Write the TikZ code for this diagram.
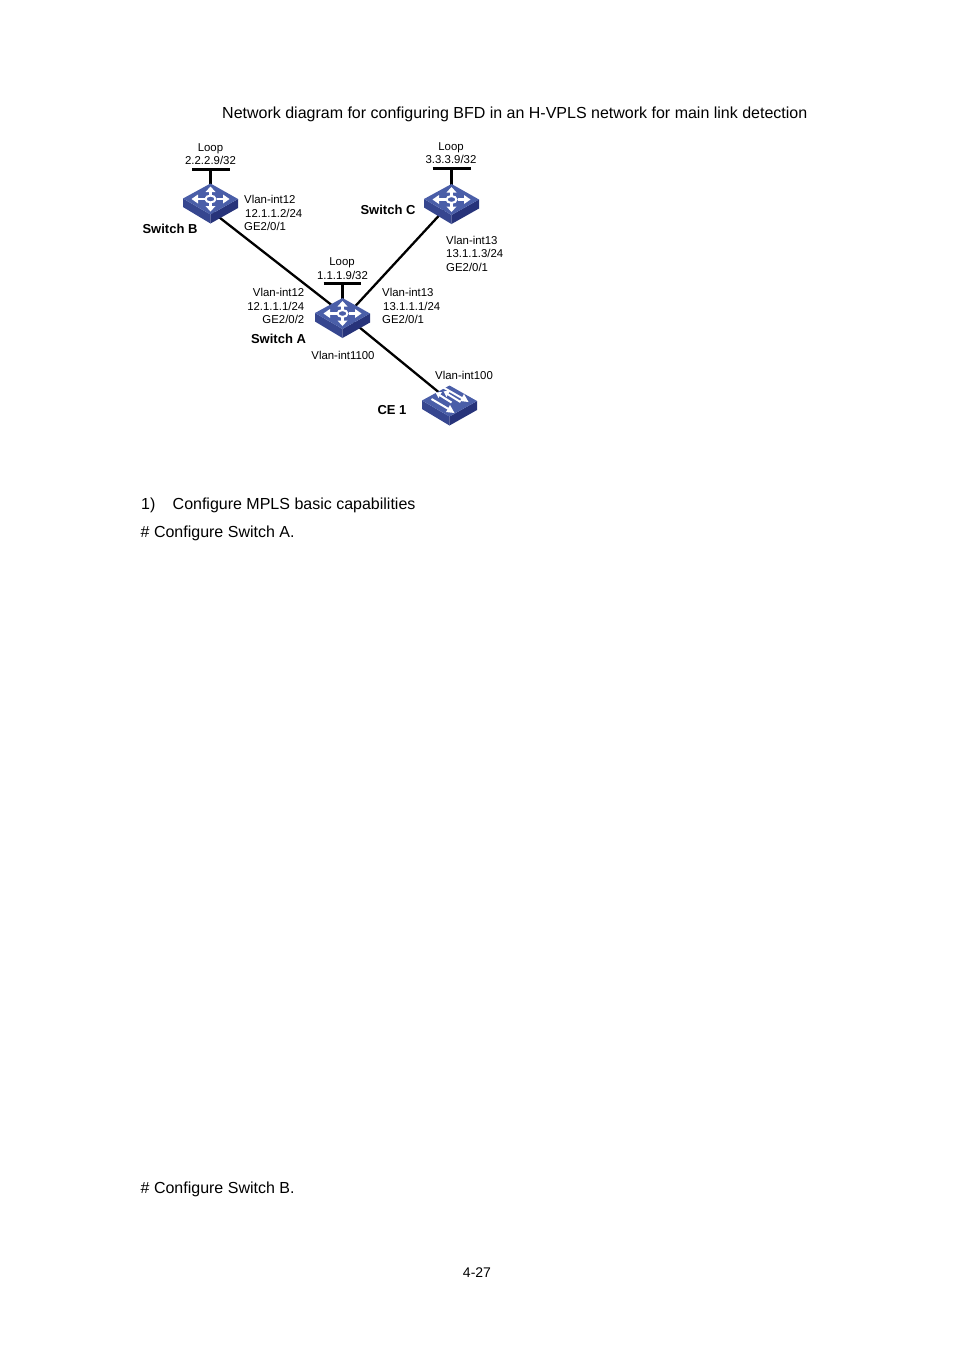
\documentclass[tikz,border=0pt]{standalone}
\usepackage{fontspec}
\setmainfont{Liberation Sans}
\definecolor{topblue}{HTML}{4A5EA8}
\definecolor{leftblue}{HTML}{36468F}
\definecolor{rightblue}{HTML}{27337A}
\tikzset{
  x=1pt,y=-1pt,
  bodytext/.style={inner sep=0pt,anchor=base west,font=\fontsize{16}{18}\selectfont},
  lbl/.style={inner sep=0pt,font=\fontsize{11.4}{13}\selectfont},
  lblw/.style={lbl,anchor=base west},
  lble/.style={lbl,anchor=base east},
  lblc/.style={lbl,anchor=base},
  devname/.style={inner sep=0pt,anchor=base,font=\fontsize{13}{15}\bfseries\selectfont},
  link/.style={draw=black,line width=2.3pt},
  stub/.style={draw=black,line width=2.6pt},
  loopbar/.style={draw=black,line width=2.3pt},
  pics/chassis/.style={code={
    \fill[leftblue] (-27.5,-0.5) -- (0,15.5) -- (0,24.5) -- (-27.5,8) -- cycle;
    \fill[rightblue] (27.5,0) -- (0,15.5) -- (0,24.5) -- (27.5,9) -- cycle;
    \fill[topblue] (-27.5,-0.5) -- (0,-15.5) -- (27.5,0) -- (0,15.5) -- cycle;
  }},
  pics/routericon/.style={code={
    \pic {chassis};
    \draw[white,line width=2pt] (0,0) ellipse (5 and 3.4);
    \foreach \s in {-1,1}{
      \draw[white,line width=2.4pt] (\s*6,0) -- (\s*14,0);
      \fill[white] (\s*19,0) -- (\s*12.5,-4.5) -- (\s*12.5,4.5) -- cycle;
      \fill[white] (0,\s*12.5) -- (-5,\s*7) -- (5,\s*7) -- cycle;
      \draw[white,line width=2.6pt] (0,\s*3.5) -- (0,\s*8);
    }
  }},
  strip/.style={white,line width=2pt},
  pics/l2icon/.style={code={
    \pic {chassis};
    \draw[strip] (-18,-2) -- (-1,8);
    \fill[white] (5,12) -- (-3.5,11) -- (0.5,4) -- cycle;
    \draw[strip] (-10,-6) -- (2,1.5);
    \fill[white] (-14,-8.5) -- (-7.5,-9) -- (-11,-3) -- cycle;
    \draw[strip] (-2,-7) -- (11,1);
    \fill[white] (-6,-9.7) -- (0.5,-10) -- (-3,-4) -- cycle;
    \draw[strip] (-6.5,-13.7) -- (14,-2);
    \fill[white] (19,1) -- (10.5,0) -- (14.5,-7) -- cycle;
  }}
}
\begin{document}
\begin{tikzpicture}
\useasboundingbox (0,0) rectangle (954,1350);
\fill[white] (0,0) rectangle (954,1350);
% anchors
\coordinate (swA) at (342.5,313.5);
\coordinate (swB) at (210.5,199);
\coordinate (swC) at (451.5,199.5);
\coordinate (ce) at (449.5,401);
\coordinate (portAb) at (342.5,313.5);
\coordinate (portAc) at (342.5,320);
\coordinate (portBa) at (210.5,210.5);
\coordinate (portCa) at (451.5,202);
\coordinate (barAl) at (323.5,283.5);
\coordinate (barAr) at (361,283.5);
\coordinate (barAm) at (342.5,283.5);
\coordinate (barBl) at (192,169.5);
\coordinate (barBr) at (230,169.5);
\coordinate (barBm) at (210.5,169.5);
\coordinate (barCl) at (432.5,168.5);
\coordinate (barCr) at (470.5,168.5);
\coordinate (barCm) at (451.5,168.5);
% connectors
\draw[link] (portAb) -- (portBa);
\draw[link] (portAc) -- (portCa);
\draw[link] (swA) -- (ce);
\draw[stub] (barAm) -- (swA);
\draw[stub] (barBm) -- (swB);
\draw[stub] (barCm) -- (swC);
\draw[loopbar] (barAl) -- (barAr);
\draw[loopbar] (barBl) -- (barBr);
\draw[loopbar] (barCl) -- (barCr);
% devices
\pic at (swA) {routericon};
\pic at (swB) {routericon};
\pic at (swC) {routericon};
\pic at (ce) {l2icon};
% texts
\node[bodytext] (title) at (222,118) {Network diagram for configuring BFD in an H-VPLS network for main link detection};
\node[lblc] (lpB) at (210.5,151) {Loop};
\node[lblc] (ipB) at (210.5,164) {2.2.2.9/32};
\node[lblw] (b1) at (244,203) {Vlan-int12};
\node[lblw] (b2) at (245,217) {12.1.1.2/24};
\node[lblw] (b3) at (244,230) {GE2/0/1};
\node[devname] (nB) at (170,233.5) {Switch B};
\node[lblc] (lpC) at (451,150) {Loop};
\node[lblc] (ipC) at (451,163) {3.3.3.9/32};
\node[devname] (nC) at (388,214.5) {Switch C};
\node[lblw] (c1) at (446,244.5) {Vlan-int13};
\node[lblw] (c2) at (446,257.5) {13.1.1.3/24};
\node[lblw] (c3) at (446,271) {GE2/0/1};
\node[lblc] (lpA) at (342,265.5) {Loop};
\node[lblc] (ipA) at (342.5,279) {1.1.1.9/32};
\node[lble] (a1) at (304.5,296.5) {Vlan-int12};
\node[lble] (a2) at (304.5,310) {12.1.1.1/24};
\node[lble] (a3) at (304.5,323.5) {GE2/0/2};
\node[devname] (nA) at (278.5,343) {Switch A};
\node[lblw] (a4) at (382,296.5) {Vlan-int13};
\node[lblw] (a5) at (383,310) {13.1.1.1/24};
\node[lblw] (a6) at (382,323.5) {GE2/0/1};
\node[lblc] (a7) at (343,359) {Vlan-int1100};
\node[lblw] (e1) at (435,379.5) {Vlan-int100};
\node[devname] (nE) at (392,414) {CE 1};
\node[bodytext] (s1a) at (141,509) {1)};
\node[bodytext] (s1b) at (172.5,509) {Configure MPLS basic capabilities};
\node[bodytext] (s2) at (140.5,537) {\# Configure Switch A.};
\node[bodytext] (s3) at (140.5,1193) {\# Configure Switch B.};
\node[inner sep=0pt,anchor=base,font=\fontsize{14}{16}\selectfont] (pg) at (477,1277) {4-27};
\end{tikzpicture}
\end{document}
